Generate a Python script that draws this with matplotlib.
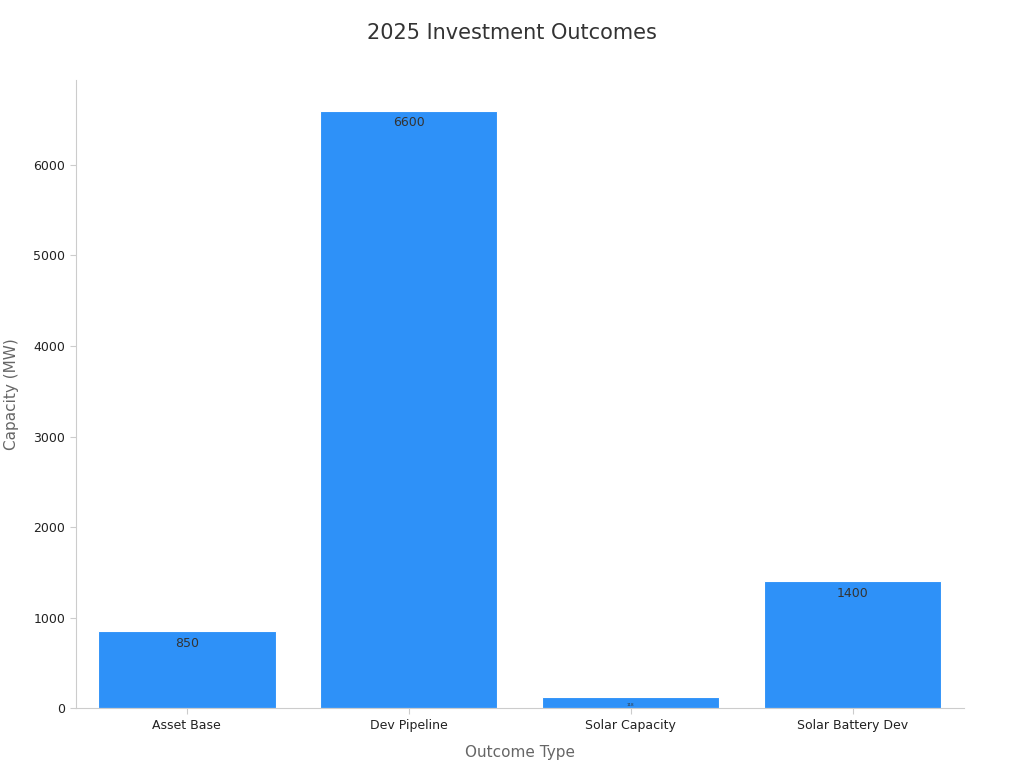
import matplotlib
matplotlib.use("Agg")
import matplotlib.pyplot as plt

categories = ["Asset Base", "Dev Pipeline", "Solar Capacity", "Solar Battery Dev"]
capacity = [850, 6600, 118, 1400]
labels = ["850", "6600", "118", "1400"]

fig = plt.figure(figsize=(10.24, 7.68), dpi=100)
ax = fig.add_axes([0.074, 0.078, 0.867, 0.818])
bars = ax.bar(categories, capacity, width=0.8, color="#2e91f8", edgecolor="white", linewidth=0.8)
for b, lab in zip(bars, labels):
    size = 3 if b.get_height() < 300 else 9
    ax.text(b.get_x() + b.get_width() / 2, b.get_height() - 60, lab,
            ha="center", va="top", fontsize=size, color="#333333")

ax.set_ylim(0, 6940)
ax.set_xlim(-0.5, 3.5)
ax.set_yticks([0, 1000, 2000, 3000, 4000, 5000, 6000])
ax.tick_params(labelsize=9, colors="#222222", length=4)
ax.tick_params(axis="both", color="#cccccc")
for s in ["top", "right"]:
    ax.spines[s].set_visible(False)
for s in ["left", "bottom"]:
    ax.spines[s].set_color("#cccccc")
ax.set_xlabel("Outcome Type", fontsize=11, color="#666666", labelpad=10)
ax.set_ylabel("Capacity (MW)", fontsize=11, color="#666666", labelpad=10)
fig.suptitle("2025 Investment Outcomes", fontsize=15, color="#333333", y=0.97)
fig.savefig("out.png")
